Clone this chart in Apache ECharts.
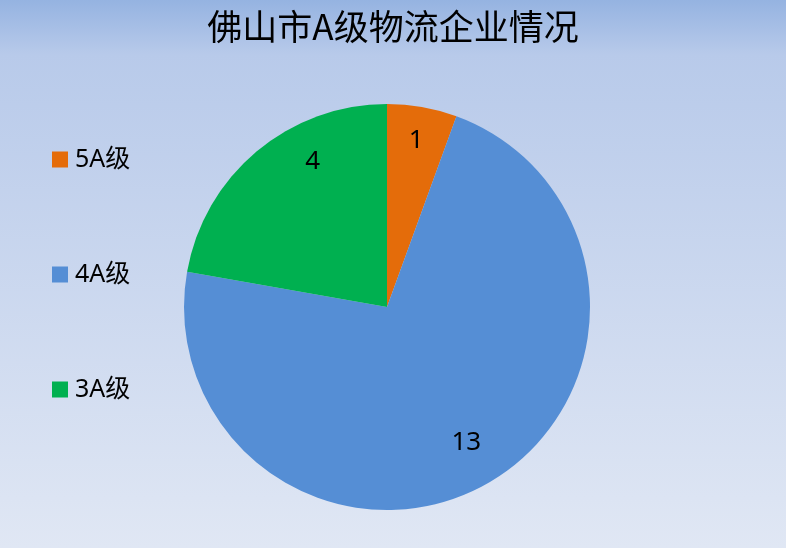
<!DOCTYPE html>
<html>
<head>
<meta charset="utf-8">
<title>佛山市A级物流企业情况</title>
<script src="https://cdn.jsdelivr.net/npm/echarts@6/dist/echarts.min.js"></script>
<style>
    html, body { margin: 0; padding: 0; }
    #chart { width: 786px; height: 548px; }
</style>
</head>
<body>
<div id="chart"></div>
<script>
// 数据
const categories = ['5A级', '4A级', '3A级'];
const values = [1, 13, 4];
const colors = ['#E46C0A', '#558ED5', '#00B050'];

const FONT = '"Noto Sans", "Noto Sans CJK SC", sans-serif';
// 标签微调（模仿Excel的"最佳位置"）
const labelNudge = [[0, 0], [-5, -10], [34, -16]];

document.addEventListener('DOMContentLoaded', function () {
    const chartDom = document.getElementById('chart');
    const myChart = echarts.init(chartDom);

    const pieData = categories.map((name, i) => ({
        name: name,
        value: values[i],
        itemStyle: { color: colors[i] }
    }));

    const option = {
        backgroundColor: {
            type: 'linear', x: 0, y: 0, x2: 0, y2: 1,
            colorStops: [
                { offset: 0, color: '#95B3E1' },
                { offset: 0.1, color: '#B8CAEA' },
                { offset: 1, color: '#E0E7F4' }
            ]
        },
        title: {
            text: '佛山市A级物流企业情况',
            left: 'center',
            top: 4,
            textStyle: {
                fontFamily: '"Noto Sans CJK SC", sans-serif',
                fontSize: 35,
                fontWeight: 'normal',
                color: '#000'
            }
        },
        legend: {
            orient: 'vertical',
            left: 52,
            top: 147,
            padding: 0,
            itemWidth: 16,
            itemHeight: 16,
            itemGap: 90,
            icon: 'rect',
            data: categories,
            textStyle: {
                fontFamily: FONT,
                fontSize: 25,
                lineHeight: 25,
                padding: [0, 0, 0, 2],
                color: '#000'
            }
        },
        series: [
            {
                // 主饼图
                type: 'pie',
                center: [387, 307],
                radius: [0, 203],
                startAngle: 90,
                clockwise: true,
                label: { show: false },
                labelLine: { show: false },
                emphasis: { disabled: true },
                itemStyle: { borderWidth: 0 },
                data: pieData
            },
            {
                // 透明层，用于把数字标签放到靠外的位置
                type: 'pie',
                center: [387, 307],
                radius: [128, 203],
                startAngle: 90,
                clockwise: true,
                silent: true,
                legendHoverLink: false,
                itemStyle: { color: 'rgba(0,0,0,0)' },
                label: {
                    show: true,
                    position: 'inside',
                    formatter: '{c}',
                    fontFamily: FONT,
                    fontSize: 26,
                    color: '#000'
                },
                labelLine: { show: false },
                emphasis: { disabled: true },
                data: categories.map((name, i) => ({
                    name: name,
                    value: values[i],
                    label: { offset: labelNudge[i] }
                }))
            }
        ]
    };

    myChart.setOption(option);
    window.addEventListener('resize', () => myChart.resize());
});
</script>
</body>
</html>
